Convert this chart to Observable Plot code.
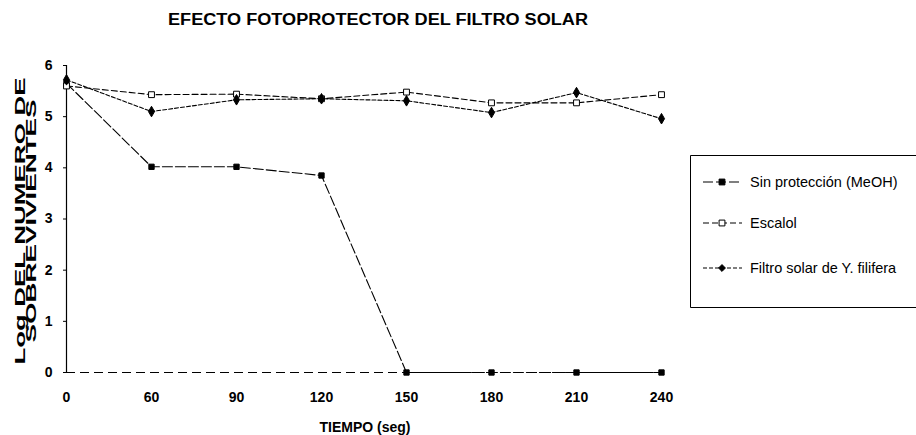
<!DOCTYPE html>
<html><head><meta charset="utf-8">
<script src="https://cdn.jsdelivr.net/npm/d3@7"></script>
<script src="https://cdn.jsdelivr.net/npm/@observablehq/plot@0.6"></script>
<style>
body{margin:0;background:#fff;}
#wrap{position:relative;width:916px;height:435px;overflow:hidden;background:#fff;}
#wrap svg{position:absolute;left:0;top:0;}
</style></head><body><div id="wrap"></div>
<script>
// ---- data ----
const tiempos = ["0", "60", "90", "120", "150", "180", "210", "240"];
const sinProteccion = [5.65, 4.02, 4.02, 3.85, 0, 0, 0, 0];
const escalol = [5.6, 5.43, 5.44, 5.35, 5.48, 5.27, 5.27, 5.43];
const filtroSolar = [5.72, 5.1, 5.33, 5.35, 5.31, 5.08, 5.47, 4.96];
const seriesNames = ["Sin protección (MeOH)", "Escalol", "Filtro solar de Y. filifera"];
const yTicks = [0, 1, 2, 3, 4, 5, 6];
const titulo = "EFECTO FOTOPROTECTOR DEL FILTRO SOLAR";
const yLabel1 = "Log DEL NUMERO DE";
const yLabel2 = "SOBREVIVIENTES";
const xLabel = "TIEMPO (seg)";

// ---- styles per series ----
const seriesStyle = [
  {dash: "10,3", symbol: "square", fill: "black", r: 3},
  {dash: "6,3", symbol: "square", fill: "white", r: 3.3},
  {dash: "4,2", symbol: "diamond", fill: "black", r: 3.2}
];

const seriesValues = [sinProteccion, escalol, filtroSolar];
const rows = [];
seriesValues.forEach((vals, i) => vals.forEach((v, j) => rows.push({serie: seriesNames[i], t: tiempos[j], v})));

const lineMarks = [];
const dotMarks = [];
seriesNames.forEach((name, i) => {
  const d = rows.filter(r => r.serie === name);
  const s = seriesStyle[i];
  lineMarks.push(Plot.line(d, {x: "t", y: "v", stroke: "black", strokeWidth: 1.1, strokeDasharray: s.dash}));
  dotMarks.push(Plot.dot(d, {x: "t", y: "v", symbol: () => s.symbol, r: s.r, fill: s.fill, stroke: "black", strokeWidth: 1}));
});

const chart = Plot.plot({
  width: 916, height: 435,
  marginLeft: 66, marginRight: 255, marginTop: 65, marginBottom: 63,
  style: {fontFamily: "'Liberation Sans', Arial, sans-serif", fontSize: "14px", fontWeight: "bold", color: "black", background: "white"},
  x: {type: "point", domain: tiempos, padding: 0, label: null},
  y: {domain: [0, 6], label: null},
  symbol: {type: "identity"},
  marks: [
    Plot.axisY(yTicks, {tickSize: 3, tickPadding: 11, label: null, tickFormat: d3.format("d")}),
    Plot.axisX(tiempos, {tickSize: 0, tickPadding: 20, label: null}),
    Plot.ruleY([0], {stroke: "black", strokeWidth: 1, strokeDasharray: "9,5"}),
    Plot.ruleX([tiempos[0]], {stroke: "black", strokeWidth: 1.2}),
    ...lineMarks,
    ...dotMarks
  ]
});
const wrap = document.getElementById("wrap");
wrap.appendChild(chart);

// ---- overlay: title, axis titles, legend ----
const ov = d3.select(wrap).append("svg").attr("width", 916).attr("height", 435)
  .style("font-family", "'Liberation Sans', Arial, sans-serif");

ov.append("text").attr("x", 378).attr("y", 19).attr("text-anchor", "middle")
  .attr("dominant-baseline", "central").attr("font-size", 16).attr("font-weight", "bold")
  .attr("textLength", 420).attr("lengthAdjust", "spacingAndGlyphs").text(titulo);

ov.append("text").attr("transform", "translate(20,221) rotate(-90)").attr("text-anchor", "middle")
  .attr("dominant-baseline", "central").attr("font-size", 14).attr("font-weight", "bold")
  .attr("textLength", 287).attr("lengthAdjust", "spacingAndGlyphs").text(yLabel1);
ov.append("text").attr("transform", "translate(31,221) rotate(-90)").attr("text-anchor", "middle")
  .attr("dominant-baseline", "central").attr("font-size", 14).attr("font-weight", "bold")
  .attr("textLength", 243).attr("lengthAdjust", "spacingAndGlyphs").text(yLabel2);

ov.append("text").attr("x", 365).attr("y", 427).attr("text-anchor", "middle")
  .attr("dominant-baseline", "central").attr("font-size", 14).attr("font-weight", "bold").text(xLabel);

// legend frame (right side runs off the page)
ov.append("path").attr("d", "M930,155.5H690.5V307.5H930")
  .attr("fill", "none").attr("stroke", "black").attr("stroke-width", 1);
const legY = [182, 223, 268];
const diamond = d3.symbolDiamond2 || d3.symbolDiamond;
seriesNames.forEach((name, i) => {
  const s = seriesStyle[i];
  const g = ov.append("g").attr("transform", `translate(0,${legY[i]})`);
  g.append("line").attr("x1", 703).attr("x2", 742).attr("y1", 0).attr("y2", 0)
    .attr("stroke", "black").attr("stroke-width", 1.1).attr("stroke-dasharray", s.dash);
  const sym = s.symbol === "diamond" ? diamond : d3.symbolSquare;
  g.append("path").attr("transform", "translate(722,0)")
    .attr("d", d3.symbol(sym, s.symbol === "diamond" ? 30 : 34)())
    .attr("fill", s.fill).attr("stroke", "black").attr("stroke-width", 1);
  g.append("text").attr("x", 750).attr("y", 0).attr("dominant-baseline", "central")
    .attr("font-size", 14.5).text(name);
});
</script></body></html>
